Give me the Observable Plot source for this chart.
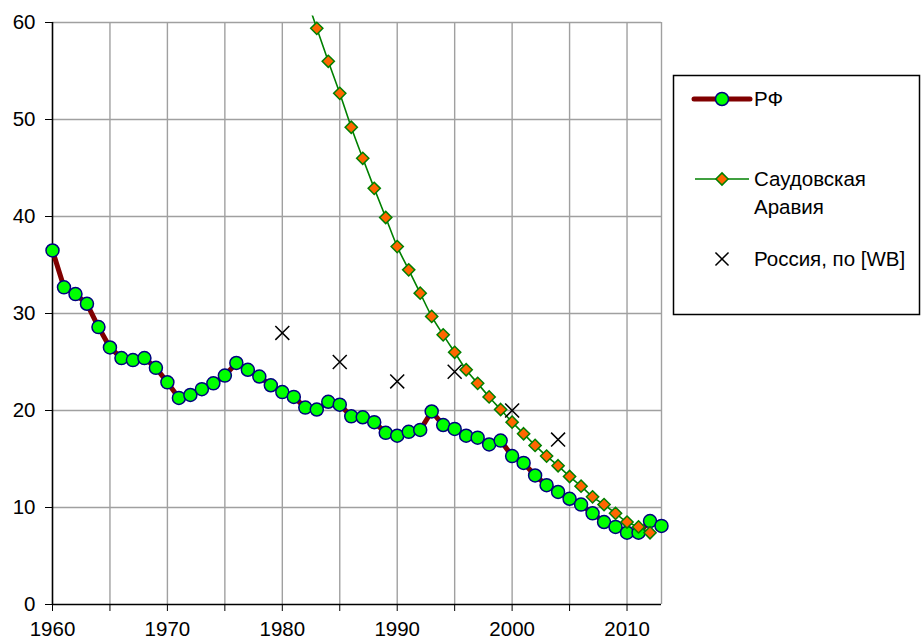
<!DOCTYPE html>
<html>
<head>
<meta charset="utf-8">
<script src="https://cdn.jsdelivr.net/npm/d3@7"></script>
<script src="https://cdn.jsdelivr.net/npm/@observablehq/plot@0.6"></script>
<style>
  body { margin: 0; background: white; }
  #wrap { position: relative; width: 921px; height: 642px; font-family: 'Liberation Sans', Arial, sans-serif; }
  #legend { position: absolute; left: 0; top: 0; pointer-events: none; }
</style>
</head>
<body>
<div id="wrap"></div>
<script>
// Years and values
const rfYears = [1960,1961,1962,1963,1964,1965,1966,1967,1968,1969,
                 1970,1971,1972,1973,1974,1975,1976,1977,1978,1979,
                 1980,1981,1982,1983,1984,1985,1986,1987,1988,1989,
                 1990,1991,1992,1993,1994,1995,1996,1997,1998,1999,
                 2000,2001,2002,2003,2004,2005,2006,2007,2008,2009,
                 2010,2011,2012,2013];
const rfValues = [36.5,32.7,32.0,31.0,28.6,26.5,25.4,25.2,25.4,24.4,
                  22.9,21.3,21.6,22.2,22.8,23.6,24.9,24.2,23.5,22.6,
                  21.9,21.4,20.3,20.1,20.9,20.6,19.4,19.3,18.8,17.7,
                  17.4,17.8,18.0,19.9,18.5,18.1,17.4,17.2,16.5,16.9,
                  15.3,14.6,13.3,12.3,11.6,10.9,10.3,9.4,8.5,8.0,
                  7.4,7.4,8.6,8.1];

const saYears = [1982,1983,1984,1985,1986,1987,1988,1989,1990,1991,
                 1992,1993,1994,1995,1996,1997,1998,1999,2000,2001,
                 2002,2003,2004,2005,2006,2007,2008,2009,2010,2011,2012];
const saValues = [62.9,59.4,56.0,52.7,49.2,46.0,42.9,39.9,36.9,34.5,
                  32.1,29.7,27.8,26.0,24.2,22.8,21.4,20.1,18.8,17.6,
                  16.4,15.3,14.3,13.2,12.2,11.1,10.3,9.4,8.5,8.0,7.4];

const wbYears = [1980,1985,1990,1995,2000,2004];
const wbValues = [28,25,23,24,20,17];

const xTicks = [1960,1965,1970,1975,1980,1985,1990,1995,2000,2005,2010];
const yTicks = [0,10,20,30,40,50,60];
const xDomain = [1960, 2013];
const yDomain = [0, 60];

const seriesNames = ["РФ", "Саудовская Аравия", "Россия, по [WB]"];

const rf = rfYears.map((y, i) => ({year: y, value: rfValues[i]}));
const sa = saYears.map((y, i) => ({year: y, value: saValues[i]}));
const wb = wbYears.map((y, i) => ({year: y, value: wbValues[i]}));

const gridColor = "#a0a0a0";
const fontSize = "20.5px";

const chart = Plot.plot({
  width: 921,
  height: 642,
  marginLeft: 52,
  marginRight: 260,
  marginTop: 22,
  marginBottom: 38,
  style: {fontFamily: "'Liberation Sans', Arial, sans-serif", fontSize, color: "black", background: "white", overflow: "visible"},
  x: {domain: xDomain, ticks: xTicks, tickFormat: d => d % 10 === 0 ? String(d) : "", tickSize: 7, tickPadding: 10, label: null},
  y: {domain: yDomain, ticks: yTicks, tickSize: 7, tickPadding: 10, label: null},
  marks: [
    Plot.ruleX(xTicks.filter(d => d > xDomain[0]), {stroke: gridColor, strokeWidth: 1.4}),
    Plot.ruleX([xDomain[1]], {stroke: gridColor, strokeWidth: 1.4}),
    Plot.ruleY(yTicks.filter(d => d > 0), {stroke: gridColor, strokeWidth: 1.4}),
    Plot.ruleX([xDomain[0]], {stroke: "black", strokeWidth: 1.6}),
    Plot.ruleY([0], {stroke: "black", strokeWidth: 1.6}),
    Plot.line(rf, {x: "year", y: "value", stroke: "#800000", strokeWidth: 5}),
    Plot.dot(rf, {x: "year", y: "value", r: 6.5, fill: "#00ff00", stroke: "#000080", strokeWidth: 1.5}),
    Plot.line(sa, {x: "year", y: "value", stroke: "#008000", strokeWidth: 1.6, curve: "catmull-rom"}),
    Plot.dot(sa.filter(d => d.value <= yDomain[1]), {x: "year", y: "value", symbol: "diamond2", r: 5.5, fill: "#ff6600", stroke: "#008000", strokeWidth: 1.5}),
    Plot.dot(wb, {x: "year", y: "value", symbol: "times", r: 6.4, stroke: "black", strokeWidth: 1.5})
  ]
});

// clip the Saudi line slightly above the top of the frame (as in the reference)
(function clipSaudi() {
  const ns = "http://www.w3.org/2000/svg";
  const xs = chart.scale("x"), ys = chart.scale("y");
  const lines = chart.querySelectorAll('g[aria-label="line"]');
  if (lines.length < 2) return;
  const defs = document.createElementNS(ns, "defs");
  const cp = document.createElementNS(ns, "clipPath");
  cp.setAttribute("id", "sa-clip");
  const r = document.createElementNS(ns, "rect");
  const x0 = xs.apply(xDomain[0]), x1 = xs.apply(xDomain[1]);
  const yTop = ys.apply(yDomain[1]) - 7, yBot = ys.apply(yDomain[0]);
  r.setAttribute("x", x0); r.setAttribute("y", yTop);
  r.setAttribute("width", x1 - x0); r.setAttribute("height", yBot - yTop);
  cp.appendChild(r); defs.appendChild(cp);
  chart.insertBefore(defs, chart.firstChild);
  lines[1].setAttribute("clip-path", "url(#sa-clip)");
})();

document.getElementById("wrap").appendChild(chart);

// Legend (drawn to the right of the plot area, as in the reference)
(function legend() {
  const svg = d3.select("#wrap").append("svg")
    .attr("id", "legend").attr("width", 921).attr("height", 642)
    .style("font-family", "'Liberation Sans', Arial, sans-serif").style("font-size", fontSize);
  svg.append("rect").attr("x", 673.5).attr("y", 75.5).attr("width", 246).attr("height", 239)
    .attr("fill", "white").attr("stroke", "black").attr("stroke-width", 1.5);
  // РФ
  svg.append("line").attr("x1", 694).attr("x2", 750).attr("y1", 99).attr("y2", 99)
    .attr("stroke", "#800000").attr("stroke-width", 5).attr("stroke-linecap", "round");
  svg.append("circle").attr("cx", 722).attr("cy", 99).attr("r", 6.5)
    .attr("fill", "#00ff00").attr("stroke", "#000080").attr("stroke-width", 1.5);
  svg.append("text").attr("x", 754).attr("y", 99).attr("dy", "0.35em").text(seriesNames[0]);
  // Саудовская Аравия
  svg.append("line").attr("x1", 695).attr("x2", 749).attr("y1", 179).attr("y2", 179)
    .attr("stroke", "#008000").attr("stroke-width", 1.6);
  svg.append("path").attr("d", d3.symbol(d3.symbolDiamond2, Math.PI * 5.5 * 5.5)()).attr("transform", "translate(722,179)")
    .attr("fill", "#ff6600").attr("stroke", "#008000").attr("stroke-width", 1.5);
  const parts = seriesNames[1].split(" ");
  svg.append("text").attr("x", 754).attr("y", 179).attr("dy", "0.35em").text(parts[0]);
  svg.append("text").attr("x", 754).attr("y", 207).attr("dy", "0.35em").text(parts[1]);
  // Россия, по [WB]
  svg.append("path").attr("d", d3.symbol(d3.symbolTimes, Math.PI * 6 * 6)()).attr("transform", "translate(722,259)")
    .attr("fill", "none").attr("stroke", "black").attr("stroke-width", 1.5);
  svg.append("text").attr("x", 754).attr("y", 259).attr("dy", "0.35em").text(seriesNames[2]);
})();
</script>
</body>
</html>
